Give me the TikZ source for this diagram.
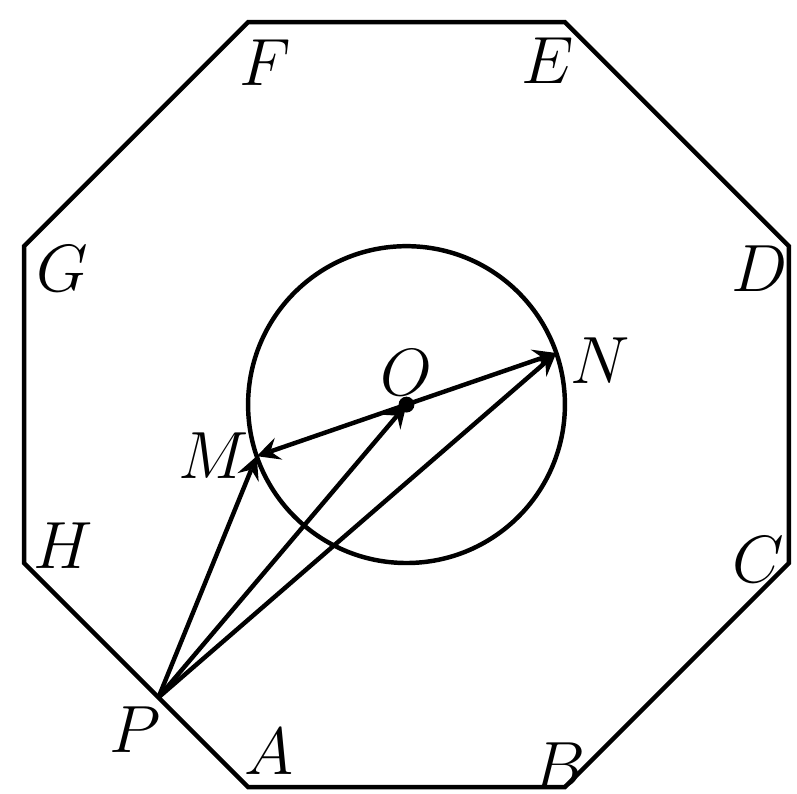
\documentclass[tikz,border=0pt]{standalone}
\usepackage{amsmath,amssymb}
\usetikzlibrary{
		calc,
		positioning
	}
\tikzset{
		>=stealth
	}
\begin{document}
\begin{tikzpicture}[line width=0.8pt, lbl/.style={font=\large}]
\useasboundingbox (-2.566,-2.453) rectangle (2.465,2.554);
\coordinate (O) at (0, 0);
\coordinate (A) at (-1, -2.414);
\coordinate (B) at (1, -2.414);
\coordinate (C) at (2.414, -1);
\coordinate (D) at (2.414, 1);
\coordinate (E) at (1, 2.414);
\coordinate (F) at (-1, 2.414);
\coordinate (G) at (-2.414, 1);
\coordinate (H) at (-2.414, -1);
\coordinate (M) at (199:1);
\coordinate (N) at (19:1);
\coordinate (P) at ($(H)!0.6!(A)$);
\draw (A) -- (B) -- (C) -- (D) -- (E) -- (F) -- (G) -- (H) -- cycle;
\draw (O) circle (1);
\draw[->] (P) -- (M);
\draw[->] (P) -- (O);
\draw[->] (P) -- (N);
\draw[->] (O) -- (M);
\draw[->] (O) -- (N);
\fill (O) circle (0.05);
\node[lbl] (lA) at (-0.87, -2.19) {$A$};
\node[lbl] (lB) at (0.96, -2.28) {$B$};
\node[lbl] (lC) at (2.22, -0.98) {$C$};
\node[lbl] (lD) at (2.23, 0.86) {$D$};
\node[lbl] (lE) at (0.89, 2.17) {$E$};
\node[lbl] (lF) at (-0.89, 2.16) {$F$};
\node[lbl] (lG) at (-2.17, 0.86) {$G$};
\node[lbl] (lH) at (-2.17, -0.89) {$H$};
\node[lbl] (lP) at (-1.71, -2.05) {$P$};
\node[lbl] (lM) at (-1.22, -0.32) {$M$};
\node[lbl] (lN) at (1.22, 0.28) {$N$};
\node[lbl] (lO) at (0, 0.2) {$O$};
\end{tikzpicture}
\end{document}
